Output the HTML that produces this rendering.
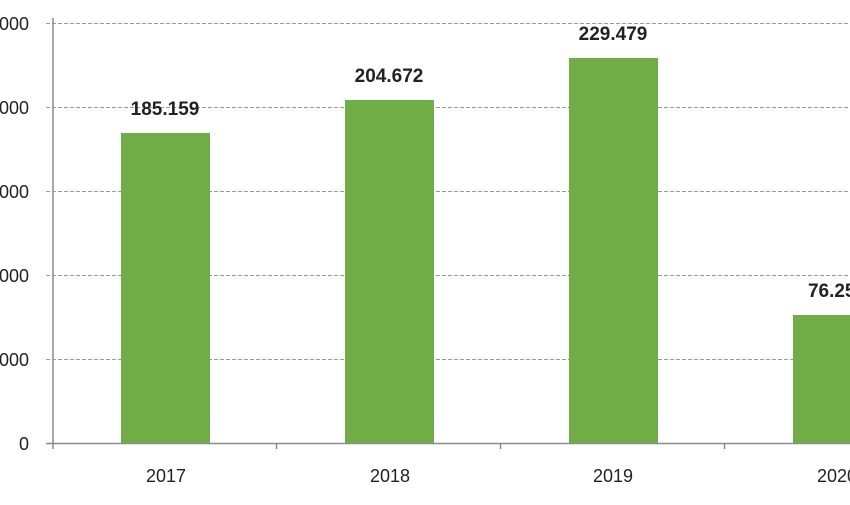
<!DOCTYPE html>
<html><head><meta charset="utf-8"><style>
html,body{margin:0;padding:0;background:#fff;}
svg text{font-family:"Liberation Sans",sans-serif;fill:#222;}
</style></head><body>
<svg width="850" height="500" xmlns="http://www.w3.org/2000/svg">
<g stroke="#9a9a9a" stroke-width="1" stroke-dasharray="4,2">
<line x1="46" y1="23.5" x2="850" y2="23.5"/>
<line x1="46" y1="107.5" x2="850" y2="107.5"/>
<line x1="46" y1="191.5" x2="850" y2="191.5"/>
<line x1="46" y1="275.5" x2="850" y2="275.5"/>
<line x1="46" y1="359.5" x2="850" y2="359.5"/>
</g>
<g fill="#70ad47">
<rect x="121" y="133" width="89" height="310"/>
<rect x="345" y="100" width="89" height="343"/>
<rect x="569" y="58" width="89" height="385"/>
<rect x="793" y="315" width="89" height="128"/>
</g>
<g stroke="#8a8a8a" stroke-width="1.5">
<line x1="53" y1="18" x2="53" y2="449"/>
<line x1="46" y1="443.5" x2="850" y2="443.5"/>
<line x1="276.5" y1="443" x2="276.5" y2="449"/>
<line x1="500.5" y1="443" x2="500.5" y2="449"/>
<line x1="724.5" y1="443" x2="724.5" y2="449"/>
</g>
<g font-size="18" text-anchor="end">
<text x="29" y="30">250.000</text>
<text x="29" y="114">200.000</text>
<text x="29" y="198">150.000</text>
<text x="29" y="282">100.000</text>
<text x="29" y="366">50.000</text>
<text x="29" y="450">0</text>
</g>
<g font-size="18" text-anchor="middle">
<text x="166" y="482">2017</text>
<text x="390" y="482">2018</text>
<text x="613" y="482">2019</text>
<text x="837" y="482">2020</text>
</g>
<g font-size="19" font-weight="bold" text-anchor="middle">
<text x="165" y="115">185.159</text>
<text x="389" y="82">204.672</text>
<text x="613" y="40">229.479</text>
<text x="837" y="297">76.250</text>
</g>
</svg>
</body></html>
